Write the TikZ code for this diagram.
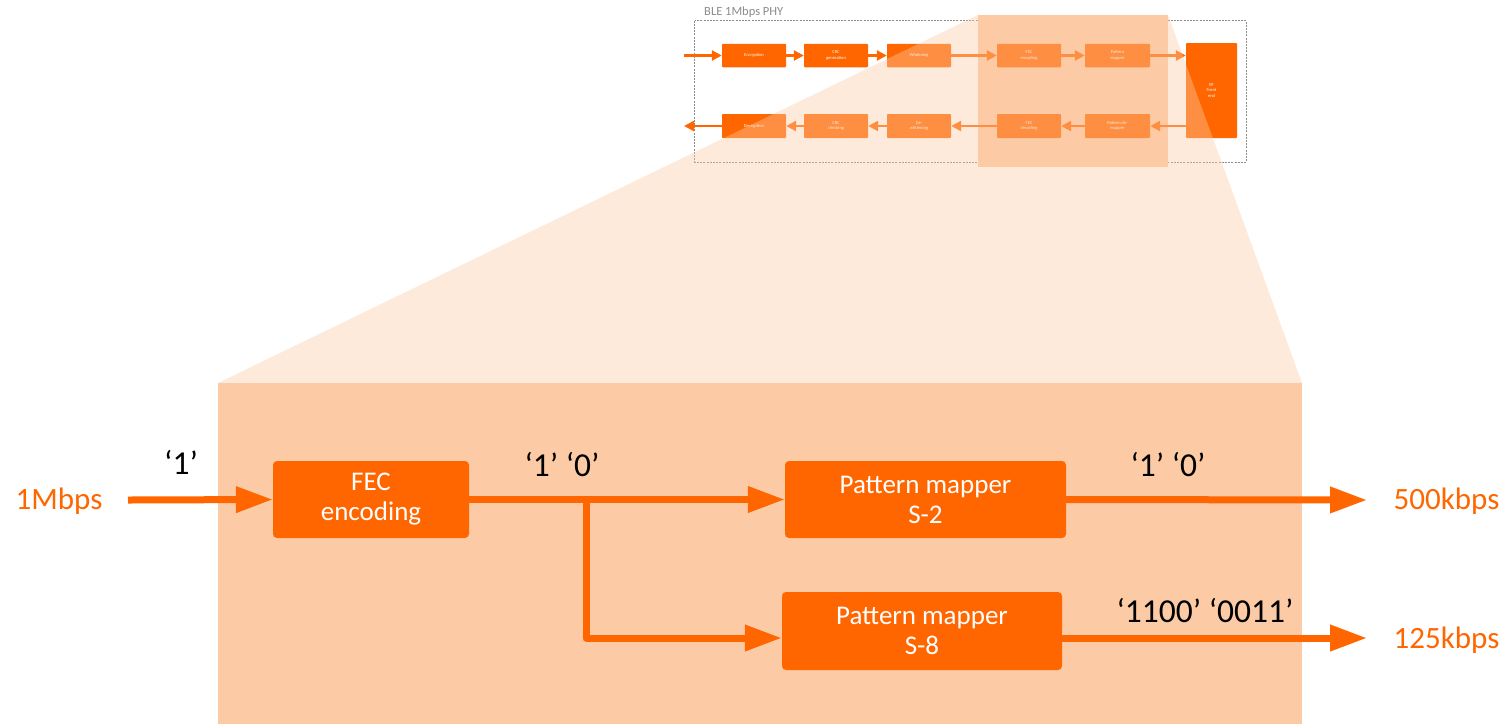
\documentclass[tikz,border=0pt]{standalone}
\usepackage{fontspec}
\setmainfont{Carlito}
\usetikzlibrary{arrows.meta}
\definecolor{bleorange}{RGB}{255,102,0}
\definecolor{peach}{RGB}{252,203,165}
\definecolor{framegray}{RGB}{140,140,140}

\begin{document}
\begin{tikzpicture}[x=1pt,y=-1pt,
  % small overview blocks
  minibox/.style={fill=bleorange, rounded corners=0.8pt, inner sep=0pt,
    minimum width=64pt, minimum height=23.5pt, text=white, align=center,
    font=\fontsize{4.5}{5.5}\selectfont},
  miniarrow/.style={draw=bleorange, line width=2.5pt,
    -{Triangle[length=10pt,width=10pt]}},
  % large detail blocks
  mainbox/.style={fill=bleorange, rounded corners=4pt, inner sep=0pt,
    minimum height=77pt, text=white, align=center,
    font=\fontsize{27}{30}\selectfont},
  mainarrow/.style={draw=bleorange, line width=7pt, line join=round,
    -{Triangle[length=37pt,width=25pt]}},
  rate/.style={text=bleorange, font=\fontsize{31}{36}\selectfont, inner sep=0pt},
  bits/.style={text=black, font=\fontsize{33.5}{40}\selectfont, inner sep=0pt}
]
\useasboundingbox (0,0) rectangle (1511,724);
\fill[white] (0,0) rectangle (1511,724);

% ---------- overview of the PHY chain ----------
\node[text=framegray, anchor=west, inner sep=0pt, font=\fontsize{12.5}{14}\selectfont]
  (phytitle) at (704,12) {BLE 1Mbps PHY};
\draw[framegray, line width=0.8pt, dash pattern=on 2pt off 1.2pt]
  (694.5,20.5) rectangle (1246.5,162);

% highlighted region of the overview
\coordinate (zTL) at (978,15);
\coordinate (zTR) at (1168,15);
\coordinate (zBR) at (1168,167);
\fill[peach] (zTL) rectangle (zBR);

% transmit row
\node[minibox] (enc)  at (754,55.5)    {Encryption};
\node[minibox] (crcg) at (836,55.5)    {CRC\\generation};
\node[minibox] (wht)  at (919,55.5)    {Whitening};
\node[minibox] (fece) at (1029,55.5)   {FEC\\encoding};
\node[minibox, minimum width=65pt] (pm) at (1117.5,55.5) {Pattern\\mapper};
\node[minibox, minimum width=51pt, minimum height=95pt] (rf) at (1211.5,90.5) {RF\\Front\\end};

% receive row
\node[minibox, minimum height=24pt] (dec)  at (754,126)  {Decryption};
\node[minibox, minimum height=24pt] (crcc) at (836,126)  {CRC\\checking};
\node[minibox, minimum height=24pt] (dwh)  at (919,126)  {De-\\whitening};
\node[minibox, minimum height=24pt] (fecd) at (1029,126) {FEC\\decoding};
\node[minibox, minimum height=24pt, minimum width=65pt] (pdm) at (1117.5,126) {Pattern de-\\mapper};

\coordinate (txin)  at (684,55.5);
\coordinate (rxout) at (684,126);

\draw[miniarrow] (txin) -- (enc.west);
\draw[miniarrow] (enc.east) -- (crcg.west);
\draw[miniarrow] (crcg.east) -- (wht.west);
\draw[miniarrow] (wht.east) -- (fece.west);
\draw[miniarrow] (fece.east) -- (pm.west);
\draw[miniarrow] (pm.east) -- (pm.east -| rf.west);

\draw[miniarrow] (pdm.east -| rf.west) -- (pdm.east);
\draw[miniarrow] (pdm.west) -- (fecd.east);
\draw[miniarrow] (fecd.west) -- (dwh.east);
\draw[miniarrow] (dwh.west) -- (crcc.east);
\draw[miniarrow] (crcc.west) -- (dec.east);
\draw[miniarrow] (dec.west) -- (rxout);

% ---------- magnification cone ----------
\coordinate (bTL) at (218,383);
\coordinate (bTR) at (1302,383);
\coordinate (bBR) at (1302,724);
\fill[peach, fill opacity=0.4] (zTL) -- (zTR) -- (bTR) -- (bTL) -- cycle;
\fill[peach] (bTL) rectangle (bBR);

% ---------- detail: coded PHY ----------
\node[mainbox, minimum width=196pt] (fec) at (371,499.5) {FEC\\encoding};
\node[mainbox, minimum width=281pt] (s2)  at (925.5,499.5) {Pattern mapper\\S-2};
\node[mainbox, minimum width=280pt, minimum height=78pt] (s8) at (922,631) {Pattern mapper\\S-8};

\node[rate] (r1m)   at (59,501)     {1Mbps};
\node[rate] (r500k) at (1446.5,501) {500kbps};
\node[rate] (r125k) at (1446.5,640) {125kbps};

\coordinate (inStart) at (128,500);
\coordinate (split)   at (586,500);
\coordinate (out2)    at (1367,500);
\coordinate (out8)    at (1367,638);

\draw[mainarrow] (inStart) -- (fec.west);
\draw[mainarrow] (fec.east) -- (s2.west);
\draw[mainarrow] (split) |- ([yshift=-7pt]s8.west);
\draw[mainarrow] ([yshift=-7pt]s8.east) -- (out8);
\draw[mainarrow] (s2.east) -- (out2);

\node[bits] (b1)   at (181,462)  {‘1’};
\node[bits] (b10a) at (562,465)  {‘1’ ‘0’};
\node[bits] (b10b) at (1168,465) {‘1’ ‘0’};
\node[bits] (b8)   at (1205,611) {‘1100’ ‘0011’};
\end{tikzpicture}
\end{document}
